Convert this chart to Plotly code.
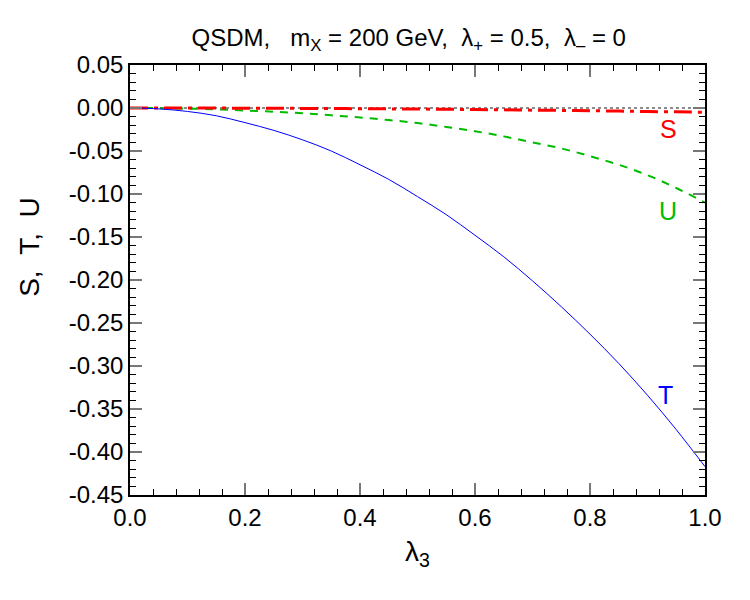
import plotly.graph_objects as go

lam = [0.0, 0.05, 0.1, 0.15, 0.2, 0.25, 0.3, 0.35, 0.4, 0.45, 0.5,
       0.55, 0.6, 0.65, 0.7, 0.75, 0.8, 0.85, 0.9, 0.95, 1.0]
S_vals = [0.0, -0.00001, -0.00005, -0.0001, -0.0002, -0.0003, -0.00045, -0.0006, -0.0008, -0.001, -0.0012,
          -0.0015, -0.0018, -0.0021, -0.0025, -0.0028, -0.0032, -0.0036, -0.0041, -0.0045, -0.005]
T_vals = [0.0, -0.001, -0.004, -0.009, -0.017, -0.026, -0.037, -0.050, -0.066, -0.083, -0.103,
          -0.124, -0.148, -0.173, -0.201, -0.231, -0.263, -0.297, -0.334, -0.374, -0.417]
U_vals = [0.0, -0.0002, -0.0007, -0.0015, -0.003, -0.0043, -0.0062, -0.0085, -0.011, -0.014, -0.0175,
          -0.022, -0.027, -0.033, -0.040, -0.047, -0.056, -0.066, -0.078, -0.093, -0.110]

x_ticks = [0.0, 0.2, 0.4, 0.6, 0.8, 1.0]
x_ticktext = ["0.0", "0.2", "0.4", "0.6", "0.8", "1.0"]
y_ticks = [0.05, 0.0, -0.05, -0.10, -0.15, -0.20, -0.25, -0.30, -0.35, -0.40, -0.45]
y_ticktext = ["0.05", "0.00", "-0.05", "-0.10", "-0.15", "-0.20", "-0.25", "-0.30", "-0.35", "-0.40", "-0.45"]

series_labels = ["S", "T", "U"]
label_pos = [(0.936, -0.0245), (0.932, -0.334), (0.936, -0.120)]

FONT = "Liberation Sans, Arial, Helvetica, sans-serif"
SP = "\u00a0\u00a0"

fig = go.Figure()
fig.add_trace(go.Scatter(x=[0, 1], y=[0, 0], mode="lines",
                         line=dict(color="#666666", width=1.5, dash="dot"), hoverinfo="skip"))
fig.add_trace(go.Scatter(x=lam, y=U_vals, mode="lines", line_shape="spline",
                         line=dict(color="#00bb00", width=2, dash="8px,7px")))
fig.add_trace(go.Scatter(x=lam, y=S_vals, mode="lines", line_shape="spline",
                         line=dict(color="#ff0000", width=3, dash="18px,6px,4px,6px")))
fig.add_trace(go.Scatter(x=lam, y=T_vals, mode="lines", line_shape="spline",
                         line=dict(color="#0000ff", width=1)))

colors = {"S": "#ff0000", "T": "#0000ff", "U": "#00bb00"}
for lbl, (lx, ly) in zip(series_labels, label_pos):
    fig.add_annotation(x=lx, y=ly, text=lbl, showarrow=False,
                       font=dict(family=FONT, size=25, color=colors[lbl]))

fig.add_annotation(xref="paper", yref="paper", x=-0.174, y=0.577, text="S," + SP + "T," + SP + "U",
                   textangle=-90, showarrow=False, xanchor="center", yanchor="middle",
                   font=dict(family=FONT, size=28, color="black"))

axis_common = dict(
    showgrid=False, zeroline=False, showline=True, linecolor="black", linewidth=1.5,
    mirror="ticks", ticks="inside", ticklen=12, tickwidth=1.5, tickcolor="#777777",
    tickfont=dict(family=FONT, size=24, color="black"),
)

fig.update_xaxes(range=[0, 1], tickmode="array", tickvals=x_ticks, ticktext=x_ticktext,
                 minor=dict(dtick=0.04, tick0=0, ticks="inside", ticklen=6, tickwidth=1, tickcolor="black"),
                 title=dict(text="λ<sub>3</sub>", font=dict(family=FONT, size=28, color="black"), standoff=12),
                 **axis_common)
fig.update_yaxes(range=[-0.45, 0.05], tickmode="array", tickvals=y_ticks, ticktext=y_ticktext,
                 minor=dict(dtick=0.01, tick0=0, ticks="inside", ticklen=6, tickwidth=1, tickcolor="black"),
                 **axis_common)

fig.update_layout(
    width=750, height=600,
    margin=dict(l=130, r=45, t=65, b=105),
    paper_bgcolor="white", plot_bgcolor="white",
    showlegend=False,
    title=dict(text="QSDM,\u00a0\u00a0\u00a0m<sub>X</sub> = 200 GeV," + SP + "λ<sub>+</sub> = 0.5," + SP + "λ<sub>–</sub> = 0",
               x=0.545, xanchor="center", y=0.938, yanchor="middle",
               font=dict(family=FONT, size=24, color="black")),
)

fig.write_html("out.html")
